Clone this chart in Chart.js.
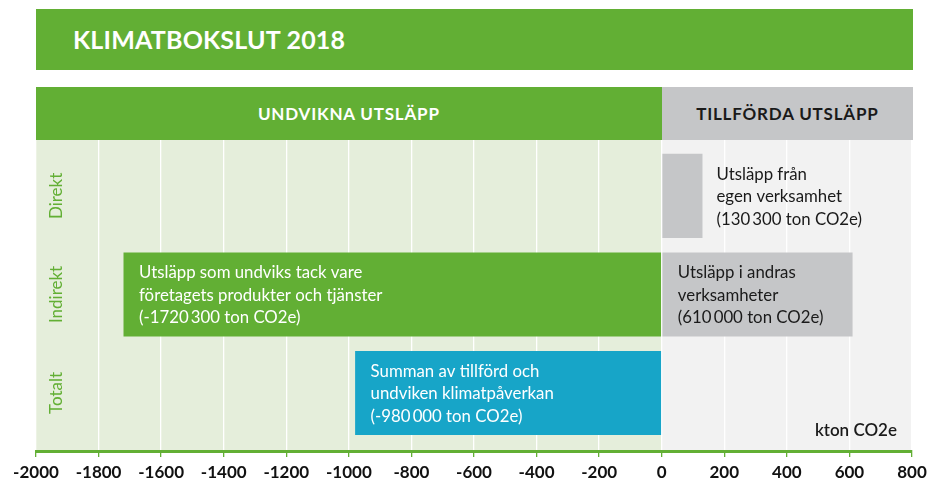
<!DOCTYPE html>
<html>
<head>
<meta charset="utf-8">
<script src="https://cdn.jsdelivr.net/npm/chart.js@4/dist/chart.umd.min.js"></script>
<style>
  html, body { margin:0; padding:0; background:#fff; }
  #wrap { position:relative; width:937px; height:481px; overflow:hidden; font-family: Lato, "Noto Sans", sans-serif; }
  #chartBox { position:absolute; left:0; top:0; width:937px; height:481px; }
  #title { position:absolute; left:36px; top:9px; width:877px; height:61px; background:#62af34; color:#fff;
           font-weight:700; font-size:25px; line-height:61px; padding-left:37px; box-sizing:border-box; letter-spacing:0.2px; }
  .hdr { position:absolute; top:87px; height:53px; line-height:53px; text-align:center; font-weight:700; font-size:17px; letter-spacing:0.8px; }
  #hdrLeft { background:#62af34; color:#fff; }
  #hdrRight { background:#c5c6c8; color:#1a1a1a; }
</style>
</head>
<body>
<div id="wrap">
  <div id="chartBox"><canvas id="c" width="937" height="481"></canvas></div>
  <div id="title">KLIMATBOKSLUT 2018</div>
  <div class="hdr" id="hdrLeft">UNDVIKNA UTSLÄPP</div>
  <div class="hdr" id="hdrRight">TILLFÖRDA UTSLÄPP</div>
</div>
<script>
// ---- data (kton CO2e) ----
const categories = ['Direkt', 'Indirekt', 'Totalt'];
const undviknaValues  = [null, -1720.3, null];
const tillfordaValues = [130.3, 610.0, null];
const totaltValues    = [null, null, -980.0];
const xTickValues = [-2000, -1800, -1600, -1400, -1200, -1000, -800, -600, -400, -200, 0, 200, 400, 600, 800];
const undviknaLabels  = [null, ['Utsläpp som undviks tack vare', 'företagets produkter och tjänster', '(-1720\u2009300 ton CO2e)'], null];
const tillfordaLabels = [['Utsläpp från', 'egen verksamhet', '(130\u2009300 ton CO2e)'], ['Utsläpp i andras', 'verksamheter', '(610\u2009000 ton CO2e)'], null];
const totaltLabels    = [null, null, ['Summan av tillförd och', 'undviken klimatpåverkan', '(-980\u2009000 ton CO2e)']];
const unitLabel = 'kton CO2e';

const GREEN = '#62af34', GRAY = '#c5c6c8', BLUE = '#17a5c8';

function toPoints(vals) {
  return vals.map((v, i) => v == null ? null : { y: i, x: [0, v] }).filter(p => p);
}
function toLabels(vals, labels) {
  return vals.map((v, i) => v == null ? null : labels[i]).filter((l, i) => vals[i] != null);
}

const bgPlugin = {
  id: 'bg',
  beforeDraw(chart) {
    const { ctx, chartArea: a, scales: { x } } = chart;
    const x0 = x.getPixelForValue(0);
    ctx.save();
    ctx.fillStyle = '#e5eedb';
    ctx.fillRect(a.left, a.top, x0 - a.left, a.bottom - a.top);
    ctx.fillStyle = '#f2f2f2';
    ctx.fillRect(x0, a.top, a.right - x0, a.bottom - a.top);
    ctx.restore();
  }
};

const labelPlugin = {
  id: 'barLabels',
  afterDatasetsDraw(chart) {
    const { ctx, chartArea: a, scales: { y } } = chart;
    ctx.save();
    ctx.textBaseline = 'middle';
    ctx.textAlign = 'left';
    ctx.font = '400 16.8px Lato, "Noto Sans", sans-serif';
    chart.data.datasets.forEach((ds, di) => {
      const meta = chart.getDatasetMeta(di);
      meta.data.forEach((el, j) => {
        const lines = ds.barText[j];
        if (!lines) return;
        const left = Math.min(el.x, el.base), right = Math.max(el.x, el.base);
        const width = right - left;
        let tx, color;
        if (width < 100) { tx = right + 14; color = '#1a1a1a'; }
        else { tx = left + 15.5; color = ds.textColor; }
        ctx.fillStyle = color;
        const lh = 22.4;
        lines.forEach((t, k) => {
          ctx.fillText(t, tx, el.y + (k - (lines.length - 1) / 2) * lh + 1);
        });
      });
    });
    // category labels (rotated)
    ctx.fillStyle = GREEN;
    ctx.textAlign = 'center';
    ctx.font = '400 17px Lato, "Noto Sans", sans-serif';
    categories.forEach((c, i) => {
      const py = y.getPixelForValue(i);
      ctx.save();
      ctx.translate(a.left + 21, py);
      ctx.rotate(-Math.PI / 2);
      ctx.fillText(c, 0, 0);
      ctx.restore();
    });
    // unit label
    ctx.fillStyle = '#1a1a1a';
    ctx.textAlign = 'right';
    ctx.font = '600 17px Lato, "Noto Sans", sans-serif';
    ctx.fillText(unitLabel, a.right - 15, a.bottom - 20);
    ctx.restore();
  }
};

const chart = new Chart(document.getElementById('c'), {
  type: 'bar',
  data: {
    datasets: [
      { label: 'Undvikna', data: toPoints(undviknaValues), barText: toLabels(undviknaValues, undviknaLabels), backgroundColor: GREEN, textColor: '#ffffff' },
      { label: 'Tillförda', data: toPoints(tillfordaValues), barText: toLabels(tillfordaValues, tillfordaLabels), backgroundColor: GRAY, textColor: '#1a1a1a' },
      { label: 'Totalt', data: toPoints(totaltValues), barText: toLabels(totaltValues, totaltLabels), backgroundColor: BLUE, textColor: '#ffffff' }
    ]
  },
  options: {
    indexAxis: 'y',
    responsive: false,
    animation: false,
    datasets: { bar: { grouped: false, categoryPercentage: 1, barPercentage: 0.853, borderWidth: 0 } },
    layout: { padding: { top: 140, left: 36, right: 25, bottom: 0 } },
    plugins: { legend: { display: false }, tooltip: { enabled: false } },
    scales: {
      y: {
        type: 'linear', reverse: true, offset: false, min: -0.567, max: 2.589, display: false,
        afterBuildTicks(scale) { scale.ticks = categories.map((c, i) => ({ value: i })); }
      },
      x: {
        type: 'linear', min: -2000, max: 800,
        afterBuildTicks(scale) { scale.ticks = xTickValues.map(v => ({ value: v })); },
        afterFit(scale) { scale.height = 30; },
        grid: { color: '#ffffff', lineWidth: 1.3, tickColor: GREEN, tickLength: 6, drawOnChartArea: true },
        border: { color: GREEN, width: 3 },
        ticks: {
          color: '#111111', padding: 7,
          font: { family: 'Lato, "Noto Sans", sans-serif', size: 17, weight: '700', lineHeight: 1 },
          callback: (v) => String(v), maxRotation: 0, autoSkip: false
        }
      }
    }
  },
  plugins: [bgPlugin, labelPlugin]
});

// header split follows the x scale's zero
(function () {
  const a = chart.chartArea, x0 = chart.scales.x.getPixelForValue(0);
  const L = document.getElementById('hdrLeft'), R = document.getElementById('hdrRight');
  L.style.left = a.left + 'px'; L.style.width = (x0 - a.left) + 'px';
  R.style.left = x0 + 'px'; R.style.width = (913 - x0) + 'px';
})();
</script>
</body>
</html>
